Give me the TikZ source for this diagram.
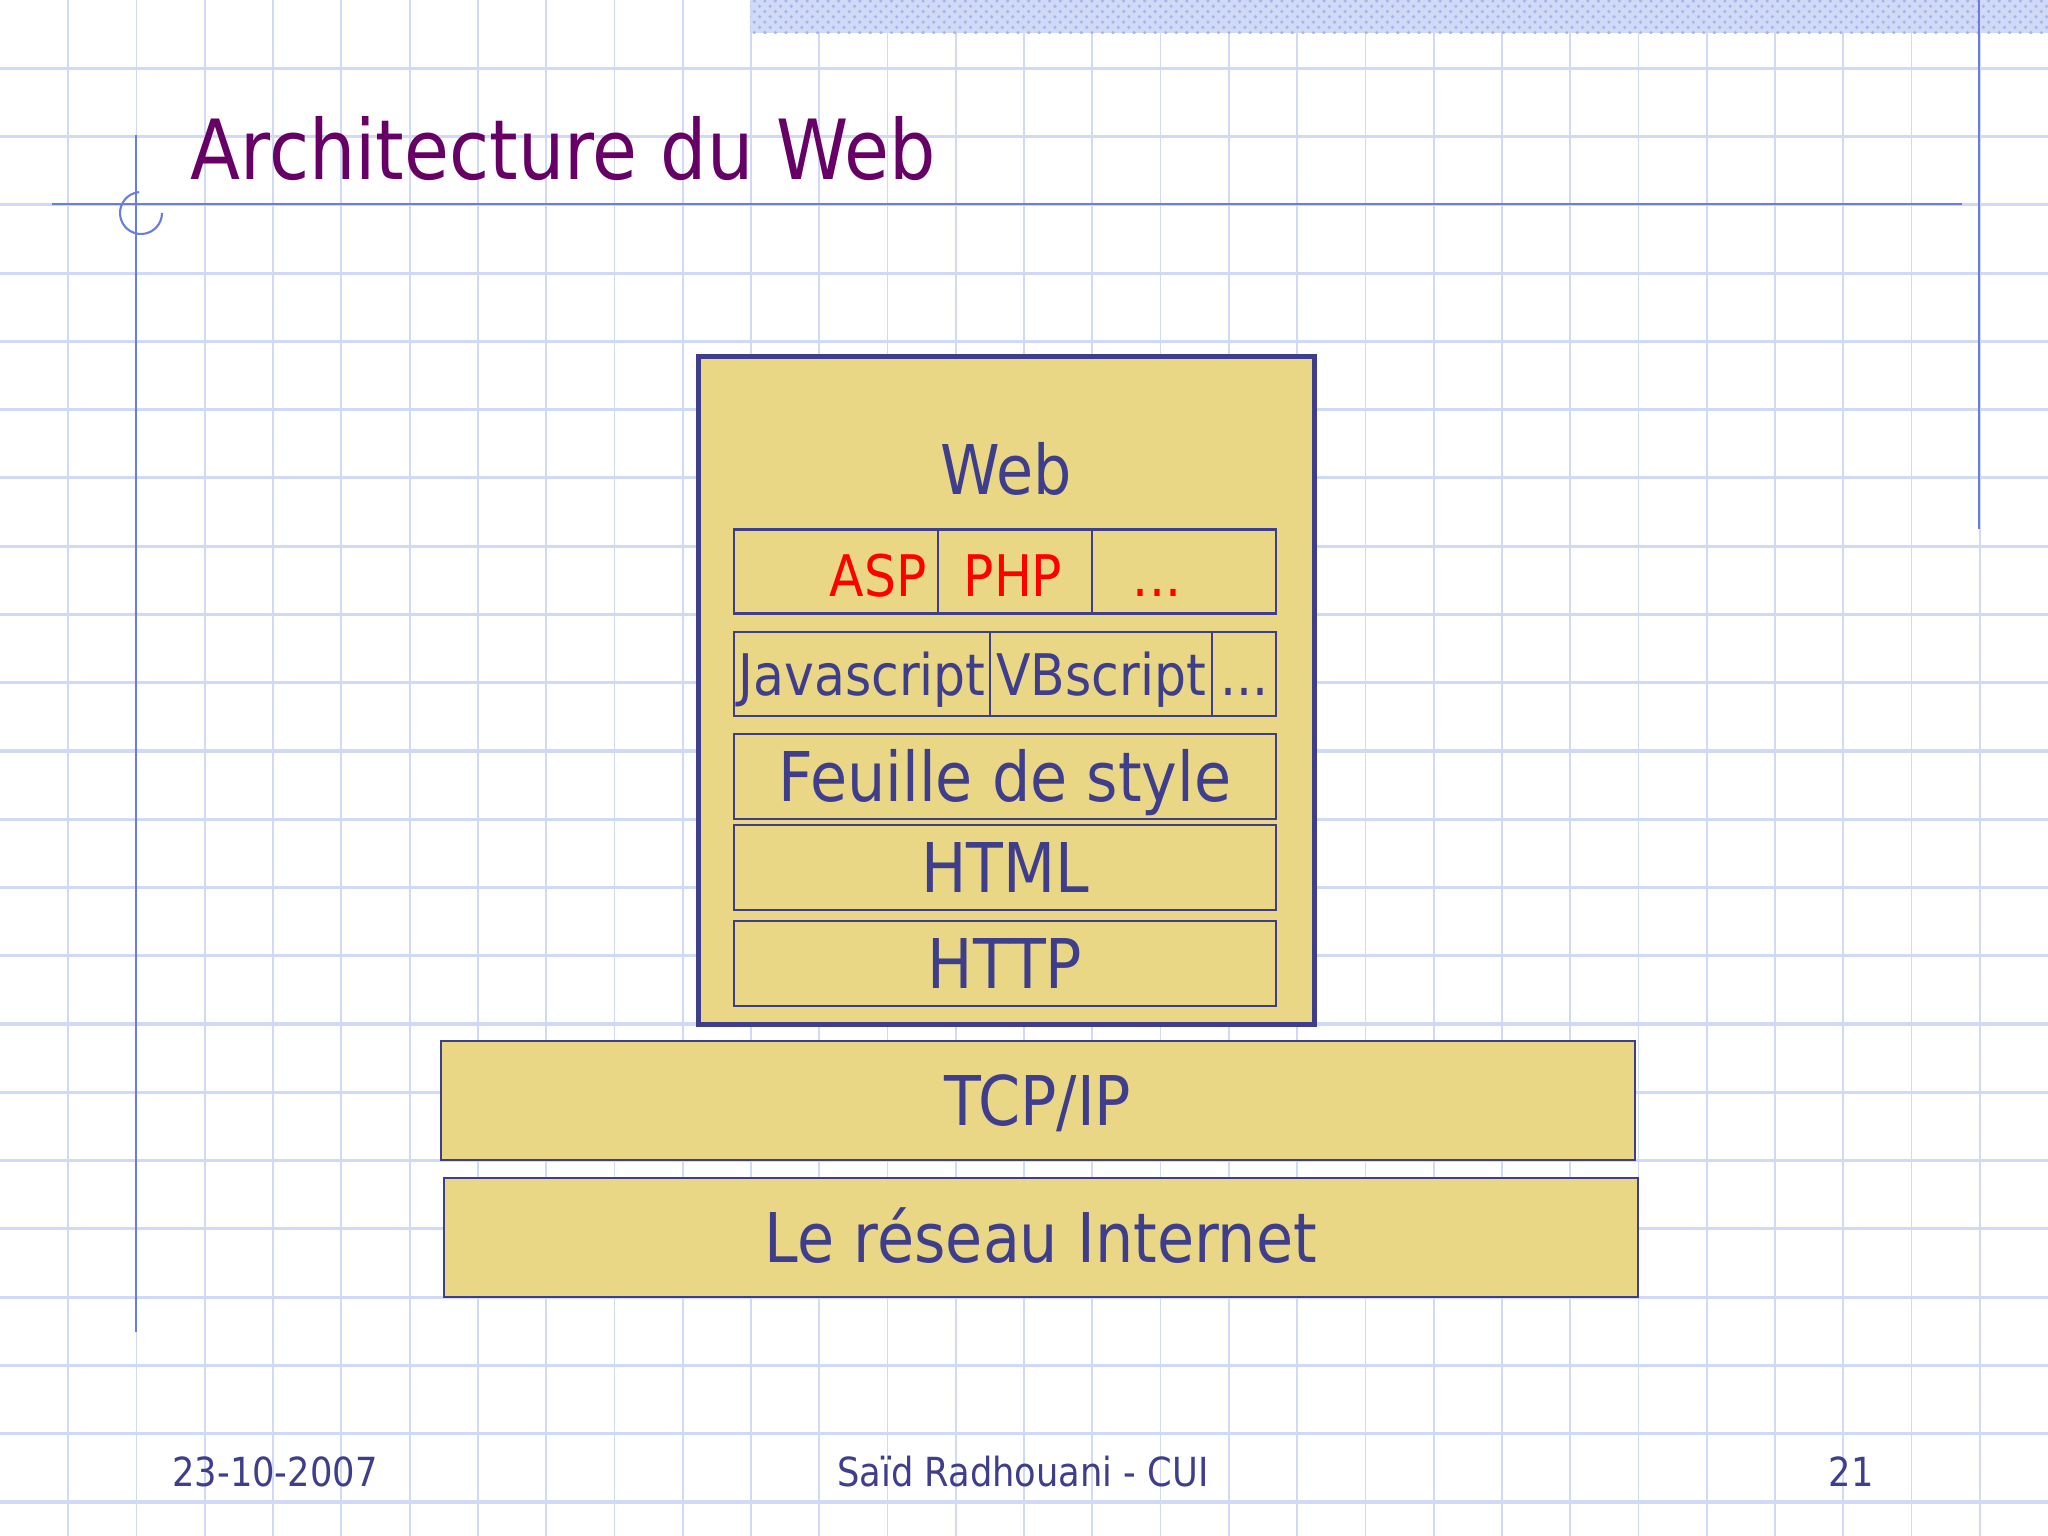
\documentclass[tikz,border=0pt]{standalone}
\usepackage{fontspec}
\setmainfont{DejaVu Sans}[FakeStretch=0.88]
\usetikzlibrary{patterns}
\definecolor{ink}{RGB}{62,62,140}
\definecolor{sand}{RGB}{233,215,133}
\definecolor{plum}{RGB}{102,0,102}
\definecolor{gridblue}{RGB}{208,217,245}
\definecolor{ruleblue}{RGB}{105,125,225}
\definecolor{stripblue}{RGB}{208,217,246}
\newcommand\sz[1]{\fontsize{#1}{#1}\selectfont}
\tikzset{
  layer/.style={draw=ink, fill=sand, line width=0.6pt, inner sep=0pt, text=ink,
    font=\sz{19.5pt}, text height=0.5cm, text depth=0pt},
  cell/.style={draw=ink, line width=0.6pt, inner sep=0pt, outer sep=0pt, text=ink, anchor=west,
    minimum height=0.84cm, font=\sz{16.3pt}, text height=0.42cm, text depth=0pt},
  rule/.style={ruleblue, line width=0.6pt},
}
\begin{document}
\begin{tikzpicture}[x=0.01cm,y=-0.01cm]
\useasboundingbox (0,0) rectangle (2048,1536);
\fill[white] (0,0) rectangle (2048,1536);
% grid paper
\foreach \k in {1,...,29}
  \draw[gridblue, line width=0.5pt] (\k*68.27,0) -- (\k*68.27,1536);
\foreach \k in {1,...,22}
  \draw[gridblue, line width=0.9pt] (0,\k*68.27) -- (2048,\k*68.27);
\fill[stripblue] (750,0) rectangle (2048,33);
\fill[pattern=crosshatch dots, pattern color=gridblue!60!ruleblue] (750,0) rectangle (2048,33);
% margin lines
\draw[rule] (136,135) -- (136,1332);
\draw[rule] (52,204) -- (1962,204);
\draw[rule] (1979,0) -- (1979,529);
\draw[rule] (141,213) ++(-95:21) arc[start angle=-95, end angle=-360, radius=21];
% title
\node[anchor=base west, inner sep=0pt, text=plum, font=\sz{23.6pt}] (title) at (190,179) {Architecture du Web};
% web stack
\node[draw=ink, line width=1.5pt, fill=sand, minimum width=6.15cm, minimum height=6.67cm] (web) at (1006.5,690.5) {};
\node[anchor=base, inner sep=0pt, text=ink, font=\sz{19.5pt}] (weblabel) at (1006,494) {Web};
\node[cell, minimum width=2.04cm] (aspcell) at (734,571.5) {};
\node[cell, minimum width=1.54cm] (phpcell) at (aspcell.east) {};
\node[cell, minimum width=1.84cm] (srvdots) at (phpcell.east) {};
\node[anchor=base, inner sep=0pt, text=red, font=\sz{16.3pt}] (asp) at (878,596) {ASP};
\node[anchor=base, inner sep=0pt, text=red, font=\sz{16.3pt}] (php) at (1013,596) {PHP};
\node[anchor=base, inner sep=0pt, text=red, font=\sz{16.3pt}] (srvmore) at (1157,596) {...};
\node[cell, minimum width=2.56cm] (js) at (734,674) {Javascript};
\node[cell, minimum width=2.22cm] (vbs) at (js.east) {VBscript};
\node[cell, minimum width=0.64cm] (clidots) at (vbs.east) {...};
\node[layer, minimum width=5.42cm, minimum height=0.85cm] (css) at (1005,776.5) {Feuille de style};
\node[layer, minimum width=5.42cm, minimum height=0.85cm] (html) at (1005,867.5) {HTML};
\node[layer, minimum width=5.42cm, minimum height=0.85cm] (http) at (1005,963.5) {HTTP};
% network layers
\node[layer, minimum width=11.94cm, minimum height=1.19cm] (tcp) at (1038,1100.5) {TCP/IP};
\node[layer, minimum width=11.94cm, minimum height=1.19cm] (net) at (1041,1237.5) {Le réseau Internet};
% footer
\node[anchor=base, inner sep=0pt, text=ink, font=\sz{11.4pt}] (date) at (275,1486) {23-10-2007};
\node[anchor=base, inner sep=0pt, text=ink, font=\sz{11.4pt}] (author) at (1023,1486) {Saïd Radhouani - CUI};
\node[anchor=base, inner sep=0pt, text=ink, font=\sz{11.4pt}] (page) at (1851,1486) {21};
\end{tikzpicture}
\end{document}
